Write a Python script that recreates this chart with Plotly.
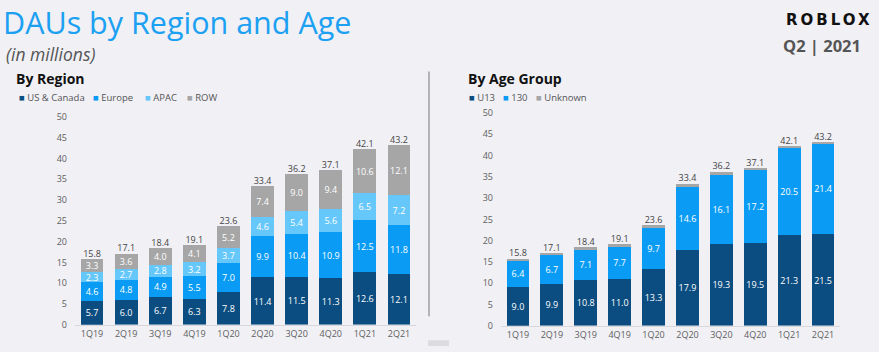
import plotly.graph_objects as go

quarters = ["1Q19", "2Q19", "3Q19", "4Q19", "1Q20", "2Q20", "3Q20", "4Q20", "1Q21", "2Q21"]

# By Region (millions)
us_canada = [5.7, 6.0, 6.7, 6.3, 7.8, 11.4, 11.5, 11.3, 12.6, 12.1]
europe = [4.6, 4.8, 4.9, 5.5, 7.0, 9.9, 10.4, 10.9, 12.5, 11.8]
apac = [2.3, 2.7, 2.8, 3.2, 3.7, 4.6, 5.4, 5.6, 6.5, 7.2]
row = [3.3, 3.6, 4.0, 4.1, 5.2, 7.4, 9.0, 9.4, 10.6, 12.1]
totals = [15.8, 17.1, 18.4, 19.1, 23.6, 33.4, 36.2, 37.1, 42.1, 43.2]

# By Age Group (millions)
u13 = [9.0, 9.9, 10.8, 11.0, 13.3, 17.9, 19.3, 19.5, 21.3, 21.5]
o13 = [6.4, 6.7, 7.1, 7.7, 9.7, 14.6, 16.1, 17.2, 20.5, 21.4]
unknown = [0.4, 0.5, 0.5, 0.4, 0.6, 0.9, 0.8, 0.4, 0.3, 0.3]

y_ticks = [0, 5, 10, 15, 20, 25, 30, 35, 40, 45, 50]

region_legend = ["US &amp; Canada", "Europe", "APAC", "ROW"]
age_legend = ["U13", "130", "Unknown"]

C_DARK = "#0b4d80"
C_BLUE = "#0a9cf5"
C_LIGHT = "#66c8fa"
C_GRAY = "#a6a6a6"
BG = "#f0f0f5"
FONT = "Open Sans"
W, H = 879, 352

def fmt(v):
    return f"{v:.1f}"

fig = go.Figure()

def add_bar(vals, color, xa, ya, label=True):
    fig.add_trace(go.Bar(
        x=quarters, y=vals, marker=dict(color=color, line=dict(width=0)),
        text=[fmt(v) for v in vals] if label else None,
        textposition="inside" if label else "none",
        insidetextanchor="middle", textangle=0,
        textfont=dict(color="white", size=9, family=FONT),
        xaxis=xa, yaxis=ya, showlegend=False, hoverinfo="skip",
    ))

add_bar(us_canada, C_DARK, "x", "y")
add_bar(europe, C_BLUE, "x", "y")
add_bar(apac, C_LIGHT, "x", "y")
add_bar(row, C_GRAY, "x", "y")

add_bar(u13, C_DARK, "x2", "y2")
add_bar(o13, C_BLUE, "x2", "y2")
add_bar(unknown, C_GRAY, "x2", "y2", label=False)

for xa, ya in (("x", "y"), ("x2", "y2")):
    fig.add_trace(go.Scatter(
        x=quarters, y=totals, mode="text", text=[fmt(t) for t in totals],
        textposition="top center", textfont=dict(color="#444444", size=9, family=FONT),
        xaxis=xa, yaxis=ya, showlegend=False, cliponaxis=False, hoverinfo="skip",
    ))

axis_common = dict(showgrid=False, zeroline=False, tickfont=dict(size=9, color="#606060", family=FONT),
                   ticks="", fixedrange=True)

fig.update_layout(
    width=W, height=H,
    margin=dict(l=0, r=0, t=0, b=0),
    paper_bgcolor=BG, plot_bgcolor=BG,
    barmode="stack", bargap=0.33,
    uniformtext=dict(minsize=9, mode="show"),
    font=dict(family=FONT),
    xaxis=dict(domain=[75 / W, 416 / W], anchor="y", showline=True, linecolor="#d8d8dc", linewidth=1,
               **axis_common),
    yaxis=dict(domain=[22 / H, 238 / H], anchor="x", range=[0, 50], tickvals=y_ticks,
               ticklabelstandoff=7, **axis_common),
    xaxis2=dict(domain=[501 / W, 840 / W], anchor="y2", showline=True, linecolor="#d8d8dc", linewidth=1,
                **axis_common),
    yaxis2=dict(domain=[21 / H, 242 / H], anchor="x2", range=[0, 50], tickvals=y_ticks,
                ticklabelstandoff=7, **axis_common),
)

def ann(text, x, y, size, color, xanchor="left", bold=False, italic=False, family=FONT, pad=1):
    if bold:
        text = f"<b>{text}</b>"
    if italic:
        text = f"<i>{text}</i>"
    fig.add_annotation(text=text, x=x / W, y=1 - y / H, xref="paper", yref="paper",
                       xanchor=xanchor, yanchor="middle", showarrow=False, borderpad=pad,
                       font=dict(size=size, color=color, family=family))

ann("DAUs by Region and Age", 2, 16, 30.5, "#1ca0f2", pad=0)
ann("(in millions)", 5, 49, 17.5, "#555555", italic=True, pad=0)
ann("By Region", 14, 74, 14, "#111111", bold=True)
ann("By Age Group", 466, 74, 14, "#111111", bold=True)
ann('<span style="letter-spacing:3px">ROBLOX</span>', 875, 13, 15, "#111111", xanchor="right",
    bold=True, family="DejaVu Sans")
ann("Q2 | 2021", 863, 40, 16.5, "#555555", xanchor="right", bold=True)

def legend(names, colors, xs, y):
    for name, c, x0 in zip(names, colors, xs):
        fig.add_annotation(text=f'<span style="color:{c}">■</span> {name}', x=x0 / W, y=1 - y / H,
                           xref="paper", yref="paper", xanchor="left", yanchor="middle",
                           showarrow=False, font=dict(size=9.5, color="#555555", family=FONT))

legend(region_legend, [C_DARK, C_BLUE, C_LIGHT, C_GRAY], [17, 91, 143, 185], 94)
legend(age_legend, [C_DARK, C_BLUE, C_GRAY], [467, 501, 534], 94)

fig.add_shape(type="line", xref="paper", yref="paper", x0=429 / W, x1=429 / W,
              y0=1 - 67 / H, y1=1 - 321 / H, line=dict(color="#b4b4b8", width=2))
fig.add_shape(type="rect", xref="paper", yref="paper", x0=428 / W, x1=449 / W,
              y0=0, y1=6 / H, line=dict(width=0), fillcolor="#dcdce0")

fig.write_html("out.html")
